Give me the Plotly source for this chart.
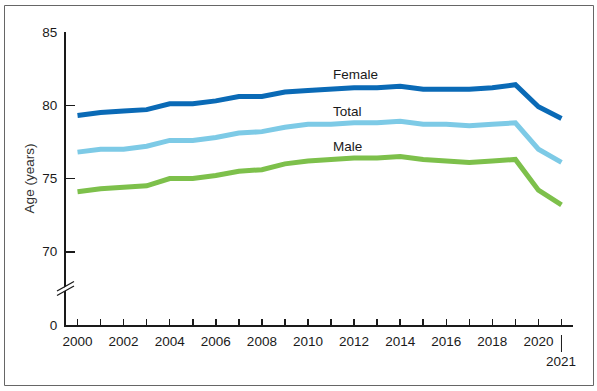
import plotly.graph_objects as go

years = list(range(2000, 2022))
female = [79.3, 79.5, 79.6, 79.7, 80.1, 80.1, 80.3, 80.6, 80.6, 80.9, 81.0,
          81.1, 81.2, 81.2, 81.3, 81.1, 81.1, 81.1, 81.2, 81.4, 79.9, 79.1]
total = [76.8, 77.0, 77.0, 77.2, 77.6, 77.6, 77.8, 78.1, 78.2, 78.5, 78.7,
         78.7, 78.8, 78.8, 78.9, 78.7, 78.7, 78.6, 78.7, 78.8, 77.0, 76.1]
male = [74.1, 74.3, 74.4, 74.5, 75.0, 75.0, 75.2, 75.5, 75.6, 76.0, 76.2,
        76.3, 76.4, 76.4, 76.5, 76.3, 76.2, 76.1, 76.2, 76.3, 74.2, 73.2]

series_names = ["Female", "Total", "Male"]
series_colors = ["#0A6AB6", "#7DCAE6", "#7DC04B"]

y_tickvals = [65, 70, 75, 80, 85]
y_ticktext = ["0", "70", "75", "80", "85"]
x_ticktext = [str(y) if (y % 2 == 0 and y <= 2020) else "" for y in years]

W, H = 597, 391
ML, MR, MT, MB = 66, 24, 32, 66
PW, PH = W - ML - MR, H - MT - MB


def px_to_paper_x(px):
    return (px - ML) / PW


def px_to_paper_y(py):
    return (H - MB - py) / PH


TXT = "#1a1a1a"

fig = go.Figure()
for name, vals, col in zip(series_names, [female, total, male], series_colors):
    fig.add_trace(go.Scatter(x=years, y=vals, mode="lines", name=name,
                             line=dict(color=col, width=5), showlegend=False,
                             hoverinfo="skip"))

label_pos = {"Female": 82.1, "Total": 79.55, "Male": 77.2}
for name in series_names:
    fig.add_annotation(x=2011.0, y=label_pos[name], text=name, showarrow=False,
                       xanchor="left", yanchor="middle",
                       font=dict(size=13.5, color=TXT))

# 2021 label below with separator
fig.add_annotation(x=2021, xref="x", y=px_to_paper_y(361), yref="paper",
                   text="2021", showarrow=False, xanchor="center", yanchor="middle",
                   font=dict(size=13.5, color=TXT))
fig.add_shape(type="line", xref="x", yref="paper", x0=2021, x1=2021,
              y0=px_to_paper_y(335), y1=px_to_paper_y(352),
              line=dict(color=TXT, width=1))

# axis break
fig.add_shape(type="path", xref="paper", yref="paper",
              path="M {a},{b} L {c},{d} L {c},{e} L {a},{f} Z".format(
                  a=px_to_paper_x(58), b=px_to_paper_y(295),
                  c=px_to_paper_x(74), d=px_to_paper_y(286),
                  e=px_to_paper_y(282), f=px_to_paper_y(291)),
              fillcolor="white", line=dict(width=0), layer="above")
fig.add_shape(type="line", xref="paper", yref="paper",
              x0=px_to_paper_x(57), y0=px_to_paper_y(295.5),
              x1=px_to_paper_x(74), y1=px_to_paper_y(286),
              line=dict(color=TXT, width=1.3))
fig.add_shape(type="line", xref="paper", yref="paper",
              x0=px_to_paper_x(57), y0=px_to_paper_y(291),
              x1=px_to_paper_x(74), y1=px_to_paper_y(281.5),
              line=dict(color=TXT, width=1.3))

# outer border
fig.add_shape(type="rect", xref="paper", yref="paper",
              x0=px_to_paper_x(4.5), x1=px_to_paper_x(593.5),
              y0=px_to_paper_y(385.5), y1=px_to_paper_y(5.5),
              line=dict(color="#666666", width=1))

fig.update_layout(
    width=W, height=H,
    margin=dict(l=ML, r=MR, t=MT, b=MB, pad=0),
    paper_bgcolor="white", plot_bgcolor="white",
    hovermode=False,
    font=dict(family="Liberation Sans, Arial, sans-serif", size=13.5, color=TXT),
    xaxis=dict(range=[1999.5, 2021.5], tickmode="array", tickvals=years,
               ticktext=x_ticktext, ticks="inside", ticklen=6, tickwidth=1.5,
               tickcolor=TXT, showline=True, linecolor=TXT,
               linewidth=2, showgrid=False, zeroline=False,
               ticklabelstandoff=3,
               tickfont=dict(size=13.5, color=TXT)),
    yaxis=dict(range=[65, 85], tickmode="array", tickvals=y_tickvals,
               ticktext=y_ticktext, ticks="inside", ticklen=9, tickwidth=1.5,
               tickcolor=TXT, showline=True, linecolor=TXT,
               linewidth=2, showgrid=False, zeroline=False,
               ticklabelstandoff=4,
               title=dict(text="Age (years)", font=dict(size=13.5, color="#333333"),
                          standoff=5),
               tickfont=dict(size=13.5, color=TXT)),
)

fig.write_html("out.html", config={"displayModeBar": False, "staticPlot": True})

# remove default browser body margin so the figure sits at the page origin
with open("out.html", "r", encoding="utf-8") as f:
    html = f.read()
html = html.replace("<head>", "<head><style>html,body{margin:0;padding:0;}</style>", 1)
with open("out.html", "w", encoding="utf-8") as f:
    f.write(html)
